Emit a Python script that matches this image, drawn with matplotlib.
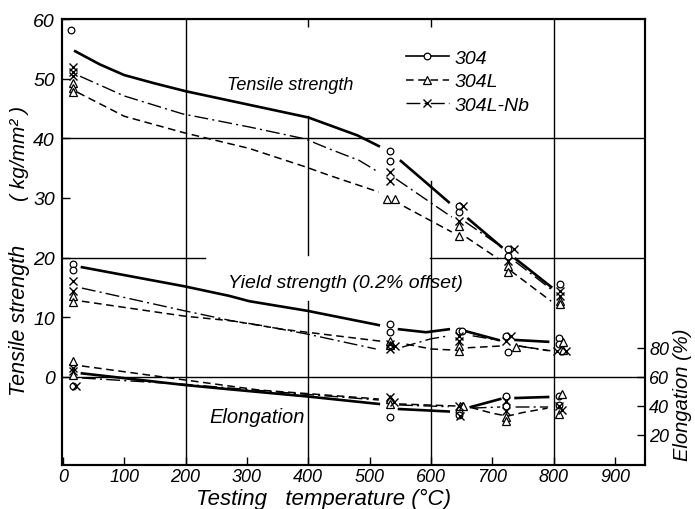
import numpy as np
import matplotlib
matplotlib.use("Agg")
import matplotlib.pyplot as plt
from matplotlib.lines import Line2D

nan = np.nan

# ---------------- data ----------------
alloys = ["304", "304L", "304L-Nb"]

# Tensile strength curves (kg/mm2); nan = gap in the drawn line
ts_304_t = [20, 60, 100, 150, 200, 300, 400, 480, 515, nan, 551, 593, 629, nan, 661, 715, nan, 738, 796]
ts_304_v = [54.6, 52.4, 50.6, 49.2, 47.9, 45.7, 43.5, 40.5, 38.7, nan, 36.2, 32.5, 29.3, nan, 26.5, 21.8, nan, 19.8, 15.1]
ts_L_t = [24, 100, 195, 304, 393, 434, 515, nan, 556, 634, nan, 658, 710, nan, 730, 796]
ts_L_v = [47.7, 43.7, 41.0, 38.3, 35.3, 33.8, 31.0, nan, 28.6, 24.3, nan, 23.4, 19.8, nan, 17.8, 12.7]
ts_Nb_t = [28, 100, 195, 304, 395, 435, 483, 515, nan, 543, 634, nan, 656, 715, nan, 738, 796]
ts_Nb_v = [50.4, 47.1, 44.1, 41.9, 39.9, 38.2, 36.3, 34.3, nan, 33.2, 26.8, nan, 26.0, 21.8, nan, 19.3, 14.7]

# Yield strength curves (kg/mm2)
ys_304_t = [31, 198, 271, 304, 398, 515, nan, 548, 592, 629, nan, 656, 710, nan, 738, 791]
ys_304_v = [18.4, 15.2, 13.6, 12.7, 11.1, 8.7, nan, 8.0, 7.5, 8.0, nan, 7.7, 6.2, nan, 6.2, 5.9]
ys_L_t = [31, 198, 276, 358, 398, 518, nan, 560, 600, 640, nan, 660, 715, nan, 743, 795]
ys_L_v = [12.7, 10.2, 9.4, 8.0, 7.5, 6.0, nan, 5.5, 4.7, 4.5, nan, 4.9, 5.2, nan, 5.2, 4.4]
ys_Nb_t = [31, 198, 276, 320, 398, 510, nan, 553, 600, 629, nan, 668, 713, nan, 743, 791]
ys_Nb_v = [14.9, 11.1, 9.4, 8.7, 7.2, 4.7, nan, 5.0, 6.4, 6.9, nan, 6.9, 6.1, nan, 5.2, 4.4]

# Elongation curves (%)
el_304_t = [31, 198, 272, 400, 515, nan, 548, 629, nan, 665, 713, nan, 738, 791]
el_304_v = [62.5, 54.5, 51.5, 46.5, 41.4, nan, 37.9, 36.2, nan, 39.3, 44.8, nan, 45.5, 46.2]
el_L_t = [31, 198, 320, 400, 515, nan, 548, 640, nan, 665, 700, 725, 750, 790]
el_L_v = [67.6, 58.0, 51.0, 48.5, 44.8, nan, 41.4, 40.0, nan, 39.0, 35.0, 33.0, 35.5, 38.5]
el_Nb_t = [31, 198, 398, 515, nan, 548, 629, nan, 668, 713, nan, 738, 791]
el_Nb_v = [59.3, 55.0, 48.0, 44.1, nan, 40.7, 39.5, nan, 38.6, 39.3, nan, 39.3, 39.3]

# Measured points
ts_pt_304_t = [13, 533, 533, 645, 645, 725, 725, 811]
ts_pt_304_v = [58.1, 37.9, 36.2, 28.6, 27.6, 21.4, 20.3, 15.6]
ts_pt_Nb_t = [16, 16, 16, 533, 533, 652, 645, 735, 725, 811, 811]
ts_pt_Nb_v = [51.9, 51.1, 50.4, 34.3, 32.8, 28.6, 26.1, 21.4, 19.4, 14.4, 13.6]
ts_pt_L_t = [16, 16, 16, 528, 541, 645, 645, 725, 725, 811, 811]
ts_pt_L_v = [49.3, 48.5, 47.7, 29.8, 29.8, 25.3, 23.6, 18.6, 17.6, 12.7, 12.2]

ys_pt_304_t = [16, 16, 534, 534, 645, 650, 723, 726, 808, 808]
ys_pt_304_v = [18.9, 17.9, 8.9, 7.5, 7.7, 7.7, 6.9, 4.2, 6.5, 5.6]
ys_pt_Nb_t = [16, 16, 534, 534, 542, 645, 645, 730, 723, 805, 820]
ys_pt_Nb_v = [16.1, 14.4, 5.5, 4.7, 5.2, 6.9, 6.1, 6.9, 6.1, 4.4, 4.4]
ys_pt_L_t = [16, 16, 534, 534, 645, 645, 738, 815, 815]
ys_pt_L_v = [13.6, 12.6, 6.0, 5.3, 5.2, 4.4, 5.0, 5.9, 4.6]

el_pt_304_t = [16, 534, 534, 645, 645, 723, 723, 808, 808]
el_pt_304_v = [54.0, 43.4, 32.4, 35.9, 34.0, 47.0, 40.0, 46.9, 40.5]
el_pt_Nb_t = [16, 16, 21, 534, 540, 645, 648, 723, 723, 808, 813]
el_pt_Nb_v = [66.0, 64.0, 54.0, 46.2, 42.8, 40.0, 33.1, 43.4, 36.6, 40.0, 37.5]
el_pt_L_t = [16, 16, 534, 534, 648, 653, 723, 723, 813, 808]
el_pt_L_v = [71.0, 61.5, 44.8, 41.4, 40.0, 40.0, 32.4, 29.7, 48.0, 34.5]

x_ticks = [0, 100, 200, 300, 400, 500, 600, 700, 800, 900]
y_ticks = [0, 10, 20, 30, 40, 50, 60]
el_ticks = [20, 40, 60, 80]

# ---------------- style ----------------
FONT = ['Liberation Sans', 'DejaVu Sans']
plt.rcParams['font.family'] = FONT
plt.rcParams['font.style'] = 'italic'

line_style = {
    "304": dict(color='k', lw=1.9, ls='-'),
    "304L": dict(color='k', lw=1.1, ls=(0, (5, 3))),
    "304L-Nb": dict(color='k', lw=1.0, ls=(0, (10, 3, 1.5, 3))),
}
mark_style = {
    "304": dict(marker='o', ms=4.8, mfc='white', mec='k', mew=0.9, ls='none'),
    "304L": dict(marker='^', ms=5.8, mfc='white', mec='k', mew=0.9, ls='none'),
    "304L-Nb": dict(marker='x', ms=5.2, mec='k', mew=1.0, ls='none'),
}

fig = plt.figure(figsize=(6.95, 5.1), dpi=100)
ax = fig.add_axes([62 / 695, 44 / 510, 583 / 695, 446 / 510])
XMIN, XMAX = -1.5, 949
YMIN, YMAX = -14.75, 60
ax.set_xlim(XMIN, XMAX)
ax.set_ylim(YMIN, YMAX)
ax2 = ax.twinx()
ax2.set_ylim(-0.7, 306.9)

def fy(v):
    return (v - YMIN) / (YMAX - YMIN)

def fx(t):
    return (t - XMIN) / (XMAX - XMIN)

# grid-like rules of the original
gkw = dict(color='k', lw=1.0, zorder=1)
ax.axvline(200, **gkw)
ax.axvline(800, **gkw)
ax.axvline(400, ymin=0, ymax=fy(12.7), **gkw)
ax.axvline(400, ymin=fy(20.5), ymax=fy(43.7), **gkw)
ax.axvline(600, ymin=0, ymax=fy(32.8), **gkw)
ax.axhline(40, **gkw)
ax.axhline(0, **gkw)
ax.axhline(20, xmin=0, xmax=fx(232), **gkw)
ax.axhline(20, xmin=fx(598), xmax=1, **gkw)

# curves
curves = {
    "304": [(ts_304_t, ts_304_v, ax), (ys_304_t, ys_304_v, ax), (el_304_t, el_304_v, ax2)],
    "304L": [(ts_L_t, ts_L_v, ax), (ys_L_t, ys_L_v, ax), (el_L_t, el_L_v, ax2)],
    "304L-Nb": [(ts_Nb_t, ts_Nb_v, ax), (ys_Nb_t, ys_Nb_v, ax), (el_Nb_t, el_Nb_v, ax2)],
}
for name, items in curves.items():
    for t, v, a in items:
        a.plot(t, v, zorder=3, **line_style[name])

points = {
    "304": [(ts_pt_304_t, ts_pt_304_v, ax), (ys_pt_304_t, ys_pt_304_v, ax), (el_pt_304_t, el_pt_304_v, ax2)],
    "304L": [(ts_pt_L_t, ts_pt_L_v, ax), (ys_pt_L_t, ys_pt_L_v, ax), (el_pt_L_t, el_pt_L_v, ax2)],
    "304L-Nb": [(ts_pt_Nb_t, ts_pt_Nb_v, ax), (ys_pt_Nb_t, ys_pt_Nb_v, ax), (el_pt_Nb_t, el_pt_Nb_v, ax2)],
}
for name, items in points.items():
    for t, v, a in items:
        a.plot(t, v, zorder=4, **mark_style[name])

# axes & ticks
for a in (ax, ax2):
    for s in a.spines.values():
        s.set_linewidth(1.5)
        s.set_color('k')
ax.set_xticks(x_ticks)
ax.set_xticklabels([str(v) for v in x_ticks])
ax.set_yticks(y_ticks)
ax.set_yticklabels([str(v) for v in y_ticks])
ax.tick_params(axis='x', direction='in', length=6, width=1, labelsize=13, pad=2)
ax.tick_params(axis='y', direction='in', length=6, width=1, labelsize=14, pad=5)
ax2.set_yticks(el_ticks)
ax2.set_yticklabels([str(v) for v in el_ticks])
ax2.tick_params(axis='y', direction='in', length=6, width=1, labelsize=13, pad=3)
top = ax.secondary_xaxis('top')
top.set_xticks([400, 600])
top.set_xticklabels(['', ''])
top.tick_params(direction='in', length=6, width=1)

# texts
fig.text(20 / 695, 1 - 320 / 510, 'Tensile strength', rotation=90, ha='center', va='center', fontsize=15.5)
fig.text(20 / 695, 1 - 153 / 510, '( kg/mm² )', rotation=90, ha='center', va='center', fontsize=15)
fig.text(683 / 695, 1 - 395 / 510, 'Elongation (%)', rotation=90, ha='center', va='center', fontsize=14.5)
fig.text(324 / 695, 1 - 499 / 510, 'Testing   temperature (°C)', ha='center', va='center', fontsize=16)

ax.text(370, 49.1, 'Tensile strength', ha='center', va='center', fontsize=13)
ax.text(460, 15.8, 'Yield strength (0.2% offset)', ha='center', va='center', fontsize=14)
ax.text(317, -6.7, 'Elongation', ha='center', va='center', fontsize=14.5)

handles = [Line2D([], [], **{**line_style[n], **{k: v for k, v in mark_style[n].items() if k != 'ls'}}) for n in alloys]
handles[0].set_linewidth(1.2)
leg = ax.legend(handles, ['304', '304L', '304L-Nb'], loc='upper left',
                bbox_to_anchor=((406 - 62) / 583, (466 - 50) / 446), frameon=False,
                fontsize=14, handlelength=2.2, numpoints=1, labelspacing=0.32,
                borderpad=0, borderaxespad=0, handletextpad=0.3)

fig.savefig('out.png', dpi=100, facecolor='white')
